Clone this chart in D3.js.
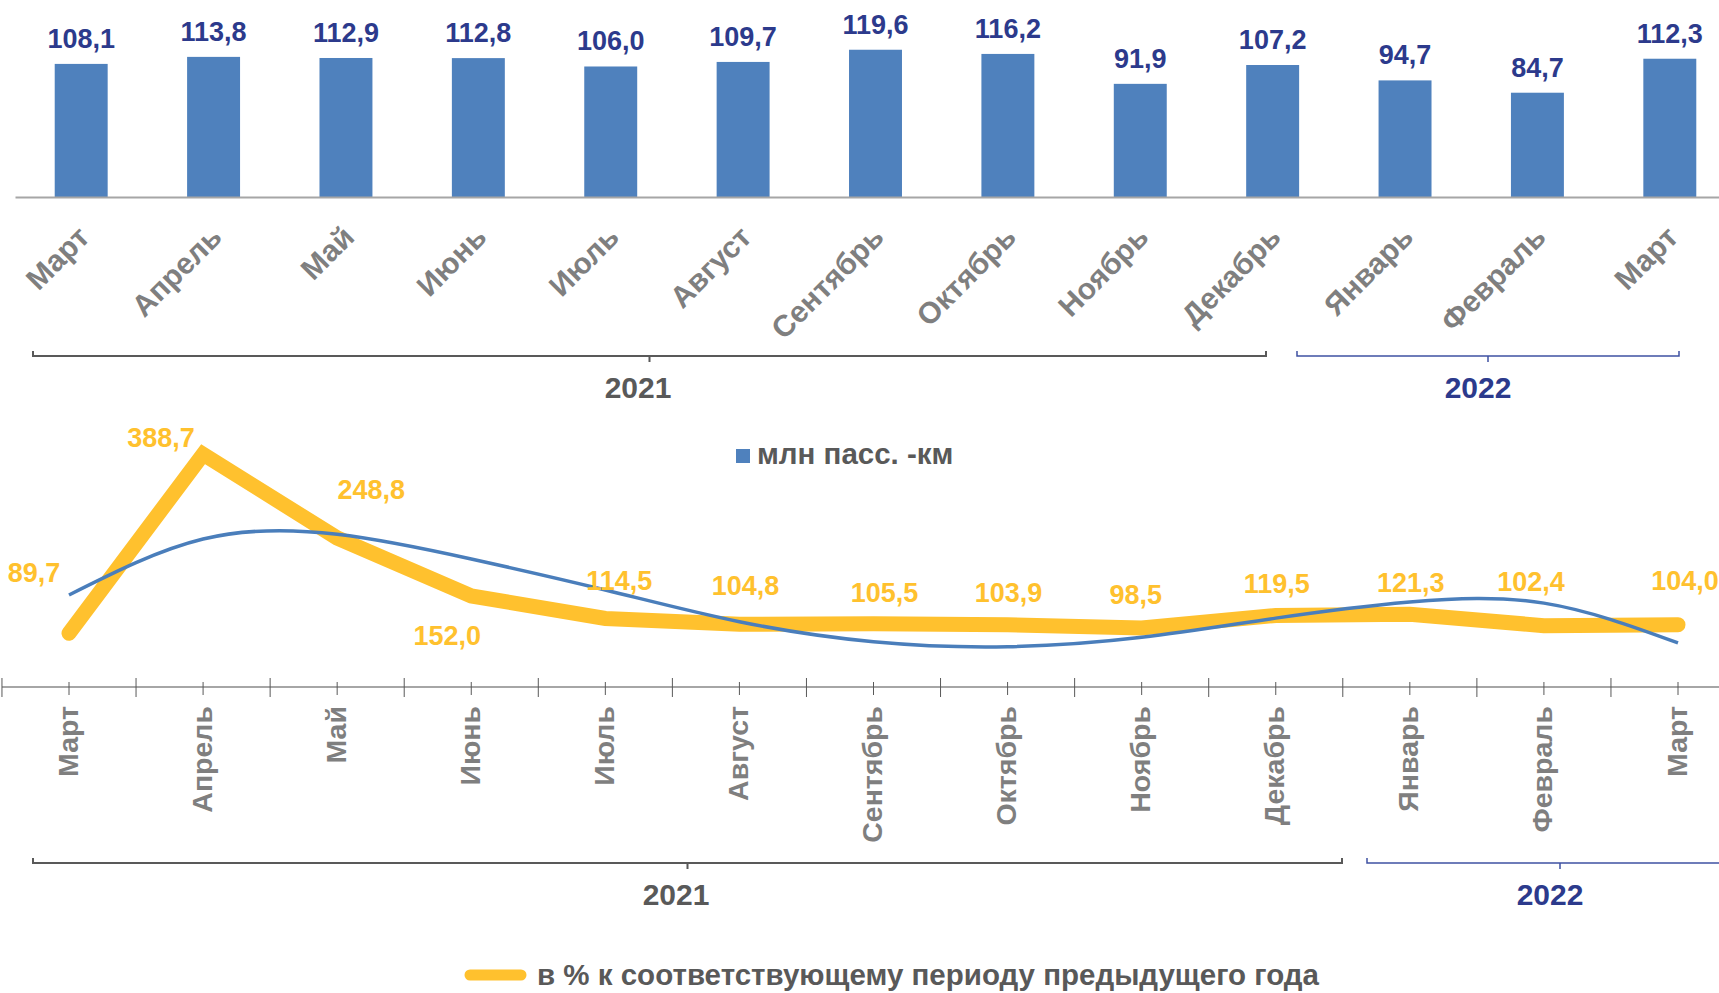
<!DOCTYPE html>
<html>
<head>
<meta charset="utf-8">
<script src="https://cdn.jsdelivr.net/npm/d3@7"></script>
<style>
  body { margin: 0; background: #fff; }
  svg { display: block; font-family: "Liberation Sans", Arial, sans-serif; font-weight: bold; }
</style>
</head>
<body>
<svg></svg>
<script>
const size = {w: 1719, h: 993};

// categories and values
const months = ['Март', 'Апрель', 'Май', 'Июнь', 'Июль', 'Август', 'Сентябрь',
                'Октябрь', 'Ноябрь', 'Декабрь', 'Январь', 'Февраль', 'Март'];
const passKm = [108.1, 113.8, 112.9, 112.8, 106.0, 109.7, 119.6, 116.2, 91.9, 107.2, 94.7, 84.7, 112.3];
const pctPrev = [89.7, 388.7, 248.8, 152.0, 114.5, 104.8, 105.5, 103.9, 98.5, 119.5, 121.3, 102.4, 104.0];
// trend line
const trend = [153.6, 247, 255, 213.7, 162, 109, 75.6, 67.3, 83, 115, 142, 140, 73.5];
const yearLabels = ['2021', '2022'];
const legendBars = 'млн пасс. -км';
const legendLine = 'в % к соответствующему периоду предыдущего года';

// label nudges for the line labels (dx, dy from the point)
const lineLabelShift = [[-35, -61], [-42, -17], [34, -48], [-24, 40], [14, -38], [6, -39], [11, -31],
                        [1, -32], [-6, -33], [1, -32], [1, -32], [-13, -44], [7, -44]];

const blue = '#4f81bd', yellow = '#ffc12e', navy = '#2c3a8c', grey = '#7f7f7f', dark = '#595959';
const fmt = v => d3.format('.1f')(v).replace('.', ',');

const svg = d3.select('svg').attr('width', size.w).attr('height', size.h);

// ---------- TOP: bars ----------
const xTop = d3.scaleBand().domain(d3.range(months.length))
    .range([15, 1736]).paddingInner(0.6).paddingOuter(0.3);
const yTop = d3.scaleLinear().domain([0, 160]).range([197, 0]);
const cx = i => xTop(i) + xTop.bandwidth() / 2;

const topG = svg.append('g');
topG.selectAll('rect').data(passKm).join('rect')
    .attr('x', (d, i) => xTop(i))
    .attr('y', d => yTop(d))
    .attr('width', xTop.bandwidth())
    .attr('height', d => yTop(0) - yTop(d))
    .attr('fill', blue);

topG.append('g')
    .attr('transform', `translate(0,${yTop(0)})`)
    .call(d3.axisBottom(xTop).tickSize(0).tickFormat(''))
    .call(g => g.select('.domain').attr('stroke', '#a6a6a6').attr('stroke-width', 2));

topG.selectAll('text.val').data(passKm).join('text').classed('val', true)
    .attr('x', (d, i) => cx(i))
    .attr('y', d => yTop(d) - 16)
    .attr('text-anchor', 'middle')
    .attr('font-size', 27)
    .attr('fill', navy)
    .text(fmt);

topG.selectAll('text.cat').data(months).join('text').classed('cat', true)
    .attr('transform', (d, i) => `translate(${cx(i) + 10},239) rotate(-45)`)
    .attr('text-anchor', 'end')
    .attr('font-size', 30)
    .attr('fill', grey)
    .text(d => d);

// ---------- BOTTOM: line ----------
const xBot = d3.scalePoint().domain(d3.range(months.length)).range([69, 1678]);
const yBot = d3.scaleLinear().domain([0, 400]).range([687, 447.4]);
const step = xBot.step();

const botG = svg.append('g');
botG.append('line')
    .attr('x1', 2).attr('x2', size.w)
    .attr('y1', yBot(0)).attr('y2', yBot(0))
    .attr('stroke', '#a6a6a6').attr('stroke-width', 2);

const ticks = d3.range(0, months.length * 2 + 1).map(k => ({x: xBot(0) + (k / 2 - 0.5) * step, major: k % 2 === 0}));
botG.selectAll('line.tick').data(ticks.filter(t => t.x <= size.w)).join('line').classed('tick', true)
    .attr('x1', d => d.x).attr('x2', d => d.x)
    .attr('y1', d => yBot(0) - (d.major ? 9 : 5))
    .attr('y2', d => yBot(0) + (d.major ? 10 : 8))
    .attr('stroke', dark).attr('stroke-width', 1);

botG.append('path')
    .datum(pctPrev)
    .attr('d', d3.line().x((d, i) => xBot(i)).y(d => yBot(d)))
    .attr('fill', 'none')
    .attr('stroke', yellow)
    .attr('stroke-width', 15)
    .attr('stroke-linecap', 'round')
    .attr('stroke-linejoin', 'miter');

botG.append('path')
    .datum(trend)
    .attr('d', d3.line().x((d, i) => xBot(i)).y(d => yBot(d)).curve(d3.curveNatural))
    .attr('fill', 'none')
    .attr('stroke', '#4a7ebb')
    .attr('stroke-width', 3.5);

botG.selectAll('text.val').data(pctPrev).join('text').classed('val', true)
    .attr('x', (d, i) => xBot(i) + lineLabelShift[i][0])
    .attr('y', (d, i) => yBot(d) + lineLabelShift[i][1])
    .attr('dy', '0.35em')
    .attr('text-anchor', 'middle')
    .attr('font-size', 27)
    .attr('fill', yellow)
    .text(fmt);

botG.selectAll('text.cat').data(months).join('text').classed('cat', true)
    .attr('transform', (d, i) => `translate(${xBot(i)},706) rotate(-90)`)
    .attr('dy', '0.3em')
    .attr('text-anchor', 'end')
    .attr('font-size', 28.5)
    .attr('fill', grey)
    .text(d => d);

// ---------- year brackets ----------
const brackets = [
    {year: 0, x0: 33, x1: 1266, y: 356, ly: 398, lx: 638},
    {year: 1, x0: 1297, x1: 1679, y: 356, ly: 398, lx: 1478},
    {year: 0, x0: 33, x1: 1342, y: 863, ly: 905, lx: 676},
    {year: 1, x0: 1367, x1: 1753, y: 863, ly: 905, lx: 1550}
];
brackets.forEach(b => {
    const col = b.year === 0 ? dark : '#3f51a3';
    const mid = (b.x0 + b.x1) / 2;
    svg.append('path')
        .attr('d', `M${b.x0},${b.y - 5}V${b.y}H${b.x1}V${b.y - 5}M${mid},${b.y}V${b.y + 6}`)
        .attr('fill', 'none')
        .attr('stroke', col)
        .attr('stroke-width', b.year === 0 ? 2 : 1.5);
    svg.append('text')
        .attr('x', b.lx).attr('y', b.ly)
        .attr('text-anchor', 'middle')
        .attr('font-size', 30)
        .attr('fill', b.year === 0 ? dark : navy)
        .text(yearLabels[b.year]);
});

// ---------- legends ----------
svg.append('rect').attr('x', 736).attr('y', 449).attr('width', 14).attr('height', 14).attr('fill', blue);
svg.append('text').attr('x', 757).attr('y', 464).attr('font-size', 29.5).attr('fill', dark).text(legendBars);

svg.append('line').attr('x1', 470).attr('x2', 521).attr('y1', 975).attr('y2', 975)
    .attr('stroke', yellow).attr('stroke-width', 11).attr('stroke-linecap', 'round');
svg.append('text').attr('x', 537).attr('y', 985).attr('font-size', 29.5).attr('fill', dark).text(legendLine);
</script>
</body>
</html>
